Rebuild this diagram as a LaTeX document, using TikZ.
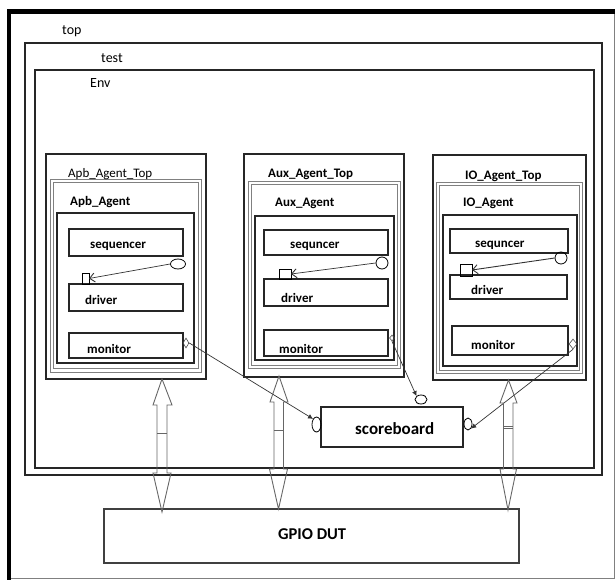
\documentclass[tikz,border=0pt]{standalone}
\usepackage{fontspec}
\setmainfont{Carlito}
\usetikzlibrary{shapes.geometric,arrows.meta,fit}
\begin{document}
\begin{tikzpicture}[x=1pt,y=-1pt,
  frame/.style={draw=black!85,line width=1.1pt,inner sep=0pt,outer sep=0pt},
  dbl/.style={draw=black!50,line width=0.9pt,inner sep=0pt,outer sep=0pt},
  comp/.style={draw=black!85,line width=1.1pt,inner sep=0pt,outer sep=0pt},
  lbl/.style={anchor=base west,inner sep=0pt,font=\fontsize{13}{15}\selectfont},
  blbl/.style={anchor=base west,inner sep=0pt,font=\fontsize{13}{15}\selectfont\bfseries},
  port/.style={ellipse,draw=black,line width=0.8pt,inner sep=0pt},
  dia/.style={diamond,draw=black!70,line width=0.6pt,inner sep=0pt},
  sqbox/.style={draw=black,line width=0.7pt,inner sep=0pt,outer sep=0pt},
  conn/.style={draw=black!80,line width=0.7pt},
  bus/.style={draw=black!60,line width=0.9pt},
  tip/.style={-{Latex[length=5pt,width=5pt]}},
  barb/.style={-{Straight Barb[length=5pt,width=9pt,line width=0.9pt]}},
]
\useasboundingbox (0,0) rectangle (615,580);
% outer "top" frame
\draw[black!50,line width=0.9pt] (614,12) -- (614,578) -- (9,578);
\draw[black,line width=4.5pt] (9,580) -- (9,11.5) -- (615,11.5);
\node[lbl,font=\fontsize{14}{16}\selectfont] (ttop) at (62,35) {top};
% test and Env
\node[frame,fit={(25,43)(602,475)}] (test) {};
\node[lbl,font=\fontsize{14}{16}\selectfont] (ttest) at (101,63) {test};
\node[frame,fit={(35,70)(594,468)}] (env) {};
\node[lbl,font=\fontsize{14}{16}\selectfont] (tenv) at (90,88) {Env};

% ---------- Apb agent ----------
\node[frame,fit={(46,154)(206,379)}] (apbtop) {};
\node[dbl,fit={(50,179)(201,372)}] (apbag) {};
\node[dbl,fit={(53,182)(198,368)}] (apbag2) {};
\node[comp,fit={(57,213)(194,363)}] (apbin) {};
\node[comp,fit={(69,229)(183,256)}] (apbseq) {};
\node[comp,fit={(69,284)(183,311)}] (apbdrv) {};
\node[comp,fit={(69,333)(183,358)}] (apbmon) {};
\node[lbl] (tapbtop) at (68,178) {Apb\_Agent\_Top};
\node[blbl] (tapbag) at (70,205) {Apb\_Agent};
\node[blbl] (tapbseq) at (90,248) {sequencer};
\node[blbl] (tapbdrv) at (85,304) {driver};
\node[blbl] (tapbmon) at (87,353) {monitor};
\node[port,minimum width=15pt,minimum height=10pt] (apbc) at (178,264) {};
\node[sqbox,fit={(82,273)(89,284)}] (apbsq) {};
\node[dia,minimum width=6pt,minimum height=10pt] (apbd) at (186,343) {};

% ---------- Aux agent ----------
\node[frame,fit={(244,154)(404,377)}] (auxtop) {};
\node[dbl,fit={(248,181)(400,368)}] (auxag) {};
\node[dbl,fit={(251,184)(397,365)}] (auxag2) {};
\node[comp,fit={(255,216)(394,360)}] (auxin) {};
\node[comp,fit={(264,230)(388,255)}] (auxseq) {};
\node[comp,fit={(264,279)(388,306)}] (auxdrv) {};
\node[comp,fit={(264,330)(388,356)}] (auxmon) {};
\node[blbl] (tauxtop) at (268,178) {Aux\_Agent\_Top};
\node[blbl] (tauxag) at (275,206) {Aux\_Agent};
\node[blbl] (tauxseq) at (290,248) {sequncer};
\node[blbl] (tauxdrv) at (281,302) {driver};
\node[blbl] (tauxmon) at (279,353) {monitor};
\node[port,circle,minimum size=12pt] (auxc) at (382,263) {};
\node[sqbox,fit={(279,269)(291,279)}] (auxsq) {};
\node[dia,minimum width=5pt,minimum height=6pt] (auxd) at (392,338) {};

% ---------- IO agent ----------
\node[frame,fit={(433,155)(586,380)}] (iotop) {};
\node[dbl,fit={(436,182)(582,373)}] (ioag) {};
\node[dbl,fit={(439,185)(579,370)}] (ioag2) {};
\node[comp,fit={(443,215)(577,366)}] (ioin) {};
\node[comp,fit={(450,229)(568,253)}] (ioseq) {};
\node[comp,fit={(450,275)(567,299)}] (iodrv) {};
\node[comp,fit={(452,326)(568,355)}] (iomon) {};
\node[blbl] (tiotop) at (465,179) {IO\_Agent\_Top};
\node[blbl] (tioag) at (463,206) {IO\_Agent};
\node[blbl] (tioseq) at (475,247) {sequncer};
\node[blbl] (tiodrv) at (471,294) {driver};
\node[blbl] (tiomon) at (471,349) {monitor};
\node[port,circle,minimum size=12pt] (ioc) at (561,258) {};
\node[sqbox,fit={(460,264)(472,276)}] (iosq) {};
\node[dia,minimum width=8pt,minimum height=10pt] (iod) at (573,344) {};

% sequencer -> driver connections
\draw[conn,barb] (apbc.west) -- (apbsq.east);
\draw[conn,barb] (auxc.west) -- (auxsq.east);
\draw[conn,barb,line width=0.9pt] (ioc.west) -- (iosq.east);

% ---------- scoreboard ----------
\node[comp,fit={(321,407)(463,447)}] (sb) {};
\node[anchor=base west,inner sep=0pt,font=\fontsize{17}{19}\selectfont\bfseries] (tsb) at (355,434) {scoreboard};
\node[port,minimum width=9pt,minimum height=15pt] (sbl) at (316.5,424.5) {};
\node[port,minimum width=12pt,minimum height=9pt] (sbt) at (421,399.5) {};
\node[port,minimum width=8pt,minimum height=12pt] (sbr) at (468,424) {};

\draw[conn,tip] (apbd.east) -- (sbl.north west);
\draw[conn,tip] (auxd.south) -- (sbt.north west);
\draw[conn,tip] (iod.south) -- (sbr.south east);

% ---------- GPIO DUT ----------
\node[frame,draw=black!75,fit={(104,509)(519,563)}] (dut) {};
\node[anchor=base west,inner sep=0pt,font=\fontsize{16.5}{19}\selectfont\bfseries] (tdut) at (278,539) {GPIO DUT};

% ---------- bus arrows ----------
\draw[bus] (162,379) -- (172,405) -- (167,405) -- (167,473) -- (171,473) -- (162,512)
  -- (153,473) -- (157,473) -- (157,405) -- (153,405) -- cycle;
\draw[bus] (157,433) -- (167,433);
\draw[bus] (279,376) -- (288,402) -- (283.5,402) -- (283.5,469) -- (287.5,469) -- (278.5,509)
  -- (269.5,469) -- (274,469) -- (274,402) -- (270,402) -- cycle;
\draw[bus] (274,430) -- (283.5,430);
\draw[bus] (508.5,380) -- (517,403) -- (513,403) -- (513,469) -- (516.5,469) -- (508,510)
  -- (500,469) -- (503.5,469) -- (503.5,403) -- (500,403) -- cycle;
\draw[bus] (503.5,426) -- (513,426);
\draw[bus] (503.5,428.5) -- (513,428.5);
\end{tikzpicture}
\end{document}
